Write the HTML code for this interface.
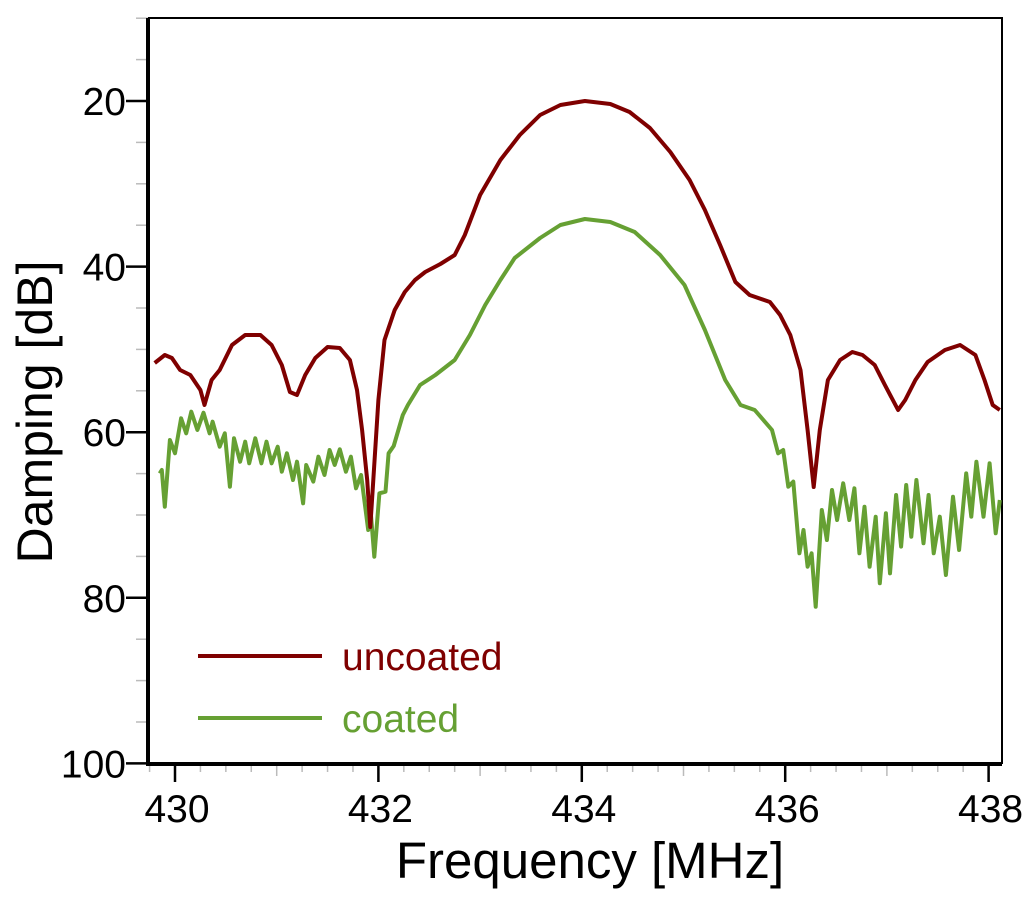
<!DOCTYPE html>
<html><head><meta charset="utf-8"><style>
html,body{margin:0;padding:0;background:#fff;}
svg{display:block;font-family:"Liberation Sans",sans-serif;}
</style></head><body>
<svg id="chart" width="1024" height="897" viewBox="0 0 1024 897" xmlns="http://www.w3.org/2000/svg">
<g id="axes"></g>
<g id="series"></g>
<g>
<line x1="198" y1="656" x2="322" y2="656" stroke="#7f0000" stroke-width="4"/>
<text x="342" y="670" font-size="39" fill="#7f0000">uncoated</text>
<line x1="198" y1="718" x2="322" y2="718" stroke="#66a033" stroke-width="4"/>
<text x="342" y="732" font-size="39" fill="#66a033">coated</text>
</g>
<text transform="translate(52,412) rotate(-90)" text-anchor="middle" font-size="50">Damping [dB]</text>
<text x="590" y="878" text-anchor="middle" font-size="51">Frequency [MHz]</text>
</svg>
<script>
const xTicks=[430,432,434,436,438];
const yTicks=[20,40,60,80,100];
const uncF=[429.80,429.90,429.97,430.05,430.15,430.25,430.29,430.36,430.44,430.56,430.69,430.84,430.95,431.05,431.13,431.20,431.28,431.38,431.50,431.62,431.72,431.79,431.84,431.89,431.92,431.95,432.00,432.06,432.16,432.26,432.36,432.46,432.61,432.75,432.85,433.00,433.20,433.39,433.59,433.79,434.03,434.28,434.47,434.67,434.87,435.06,435.21,435.36,435.51,435.65,435.85,435.95,436.05,436.15,436.22,436.28,436.34,436.42,436.54,436.66,436.76,436.88,436.98,437.11,437.18,437.28,437.40,437.57,437.72,437.87,437.96,438.04,438.11];
const uncD=[51.64,50.68,51.04,52.49,53.09,54.90,56.71,53.70,52.49,49.47,48.26,48.26,49.47,51.88,55.14,55.51,53.09,51.04,49.71,49.83,51.28,54.90,59.73,65.77,71.45,65.77,56.11,48.86,45.24,43.07,41.62,40.65,39.69,38.60,36.18,31.35,27.13,24.11,21.69,20.48,20.00,20.36,21.33,23.26,26.16,29.54,33.16,37.39,41.86,43.43,44.28,45.85,48.26,52.49,59.73,66.62,59.73,53.70,51.28,50.31,50.68,51.88,54.30,57.32,56.11,53.70,51.52,50.07,49.47,50.68,53.70,56.71,57.32];
const coaF=[429.85,429.87,429.90,429.95,430.00,430.06,430.11,430.16,430.22,430.28,430.34,430.37,430.44,430.49,430.54,430.58,430.64,430.69,430.73,430.79,430.85,430.90,430.95,431.01,431.05,431.10,431.16,431.20,431.26,431.29,431.36,431.41,431.47,431.52,431.57,431.62,431.68,431.73,431.78,431.83,431.90,431.92,431.96,432.01,432.07,432.10,432.15,432.24,432.29,432.41,432.56,432.75,432.90,433.05,433.20,433.34,433.59,433.79,434.03,434.28,434.52,434.77,435.01,435.21,435.41,435.56,435.70,435.87,435.93,435.98,436.03,436.08,436.14,436.18,436.22,436.26,436.30,436.36,436.41,436.46,436.51,436.57,436.63,436.68,436.73,436.78,436.83,436.89,436.93,436.99,437.03,437.09,437.14,437.19,437.24,437.29,437.36,437.41,437.46,437.52,437.58,437.65,437.71,437.78,437.83,437.88,437.95,438.01,438.07,438.11];
const coaD=[64.97,64.57,69.00,60.94,62.55,58.32,60.13,57.52,59.73,57.64,60.13,58.73,61.75,60.13,66.58,60.74,63.56,61.15,63.76,60.74,63.76,61.15,63.76,61.75,64.77,62.55,65.77,63.56,68.59,63.96,65.97,62.96,65.17,62.15,63.96,62.07,64.77,62.96,66.78,65.17,71.81,69.00,75.04,67.38,67.18,62.55,61.67,57.92,56.71,54.30,53.09,51.28,48.26,44.64,41.62,38.96,36.55,34.98,34.25,34.61,35.82,38.60,42.22,47.66,53.70,56.71,57.32,59.73,62.55,62.15,66.58,65.97,74.63,71.81,76.24,74.63,81.07,69.40,73.02,66.98,70.60,66.17,70.60,66.78,74.63,69.00,76.24,70.20,78.25,69.80,77.05,67.58,73.82,66.38,72.62,65.77,73.42,67.58,74.63,70.20,77.25,67.79,74.23,64.97,70.20,63.56,70.20,63.76,72.21,68.19];

const NS='http://www.w3.org/2000/svg';
const L=148,R=1002,T=18,B=764;
const X=f=>175+(f-430)*101.7;
const Y=d=>101+(d-20)*8.28;
function mk(tag,attrs,parent){const e=document.createElementNS(NS,tag);for(const k in attrs)e.setAttribute(k,attrs[k]);parent.appendChild(e);return e;}
const ax=document.getElementById('axes');
for(let f=429.75;f<=438.01;f+=0.25){
  const x=X(f);if(x<L||x>R)continue;
  const isMajor=Math.abs(Math.round(f/2)*2-f)<0.01;
  const isHalf=Math.abs(Math.round(f)-f)<0.01;
  if(isMajor)continue;
  const t=mk('line',{x1:x,y1:B,x2:x,y2:B+(isHalf?12:8),stroke:'#bbb','stroke-width':1.5},ax);
  
  
}
for(let d=10;d<100;d+=5){
  if(d%20===0)continue;
  const t=mk('line',{x1:L-12,y1:Y(d),x2:L,y2:Y(d),stroke:'#bbb','stroke-width':1.5},ax);
  
  
}
xTicks.forEach(v=>{
  const t=mk('line',{x1:X(v),y1:B,x2:X(v),y2:B+18,stroke:'#000','stroke-width':2.5},ax);
  
  
  const s=mk('text',{x:X(v)+2,y:822,'text-anchor':'middle','font-size':39},ax);
  s.textContent=v;
  
  
});
yTicks.forEach(v=>{
  const t=mk('line',{x1:L-22,y1:Y(v),x2:L,y2:Y(v),stroke:'#000','stroke-width':2.5},ax);
  
  
  const s=mk('text',{x:L-22,y:Y(v)+14,'text-anchor':'end','font-size':39},ax);
  s.textContent=v;
  
  
});
const fr=mk('path',{d:`M${L},${T} H${R} V${B} M${L},${T} V${B} H${R}`,fill:'none',stroke:'#000','stroke-width':2},ax);


const la=mk('path',{d:`M${L},${T} V${B} H${R}`,fill:'none',stroke:'#000','stroke-width':4},ax);


const sg=document.getElementById('series');
function line(F,D,color,name){
  const d=F.map((f,i)=>(i?'L':'M')+X(f).toFixed(1)+','+Y(D[i]).toFixed(1)).join(' ');
  const p=mk('path',{d:d,fill:'none',stroke:color,'stroke-width':4,'stroke-linejoin':'round'},sg);
  
  
}
line(coaF,coaD,'#66a033','coated-line');
line(uncF,uncD,'#7f0000','uncoated-line');
</script>
</body></html>
